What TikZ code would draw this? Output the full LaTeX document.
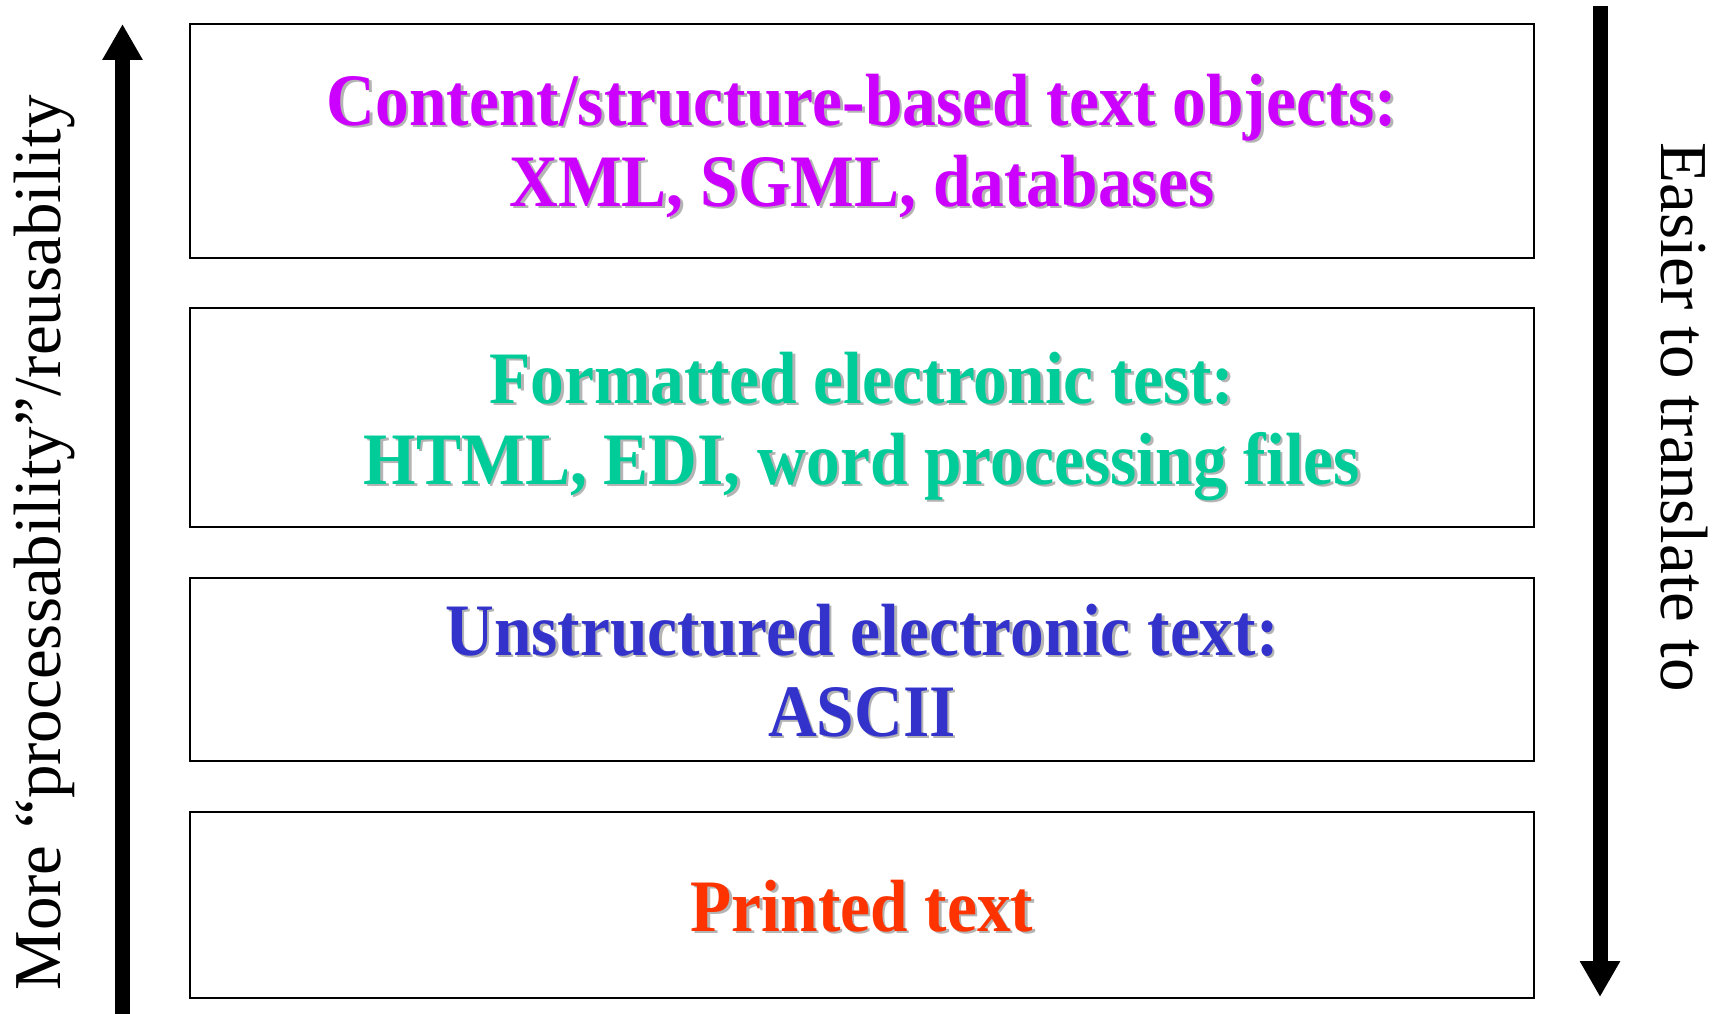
\documentclass[tikz,border=0pt]{standalone}
\usepackage{fontspec}
\setmainfont{Liberation Serif}
\newfontfamily\boxfont[FakeStretch=0.912]{Liberation Serif}
\usetikzlibrary{arrows.meta}
\definecolor{cmag}{HTML}{CC00FF}
\definecolor{cgreen}{HTML}{00CC99}
\definecolor{cblue}{HTML}{3333CC}
\definecolor{cred}{HTML}{FF3300}
\definecolor{shadowgray}{HTML}{B4B4B4}
\newcommand\shd[1]{\leavevmode\rlap{\kern2.5pt\raisebox{-2.5pt}{\color{shadowgray}#1}}#1}
\begin{document}
\begin{tikzpicture}[x=1pt,y=1pt,
  layer/.style={draw=black, line width=1.5pt, minimum width=1344pt, inner sep=0pt},
  layertext/.style={inner sep=0pt, align=center,
    font=\boxfont\fontsize{74}{81}\selectfont\bfseries},
  bigarrow/.style={line width=15pt, -{Triangle[width=38pt,length=36pt]}},
  sidelabel/.style={font=\fontsize{67}{80}\selectfont, inner sep=0pt}]
\useasboundingbox (0,0) rectangle (1715,1013);
\node[layer, minimum height=234pt] (b1) at (862,872) {};
\node[layer, minimum height=219pt] (b2) at (862,595.5) {};
\node[layer, minimum height=183pt] (b3) at (862,343.5) {};
\node[layer, minimum height=186pt] (b4) at (862,108) {};
\node[layertext, text=cmag, yshift=-6pt] (t1) at (b1.center)
  {\shd{Content/structure-based text objects:}\\\shd{XML, SGML, databases}};
\node[layertext, text=cgreen, yshift=-10pt] (t2) at (b2.center)
  {\shd{Formatted electronic test:}\\\shd{HTML, EDI, word processing files}};
\node[layertext, text=cblue, yshift=-2pt] (t3) at (b3.center)
  {\shd{Unstructured electronic text:}\\\shd{ASCII}};
\node[layertext, text=cred, yshift=-2pt] (t4) at (b4.center)
  {\shd{Printed text}};
\coordinate (la0) at (122.5,-5);
\coordinate (la1) at (122.5,989);
\draw[bigarrow] (la0) -- (la1);
\coordinate (ra0) at (1600,1007);
\coordinate (ra1) at (1600,16);
\draw[bigarrow] (ra0) -- (ra1);
\node[sidelabel, rotate=90] (ll) at (44,470) {More “processability”/reusability};
\node[sidelabel, rotate=-90] (rl) at (1684,596) {Easier to translate to};
\end{tikzpicture}
\end{document}
